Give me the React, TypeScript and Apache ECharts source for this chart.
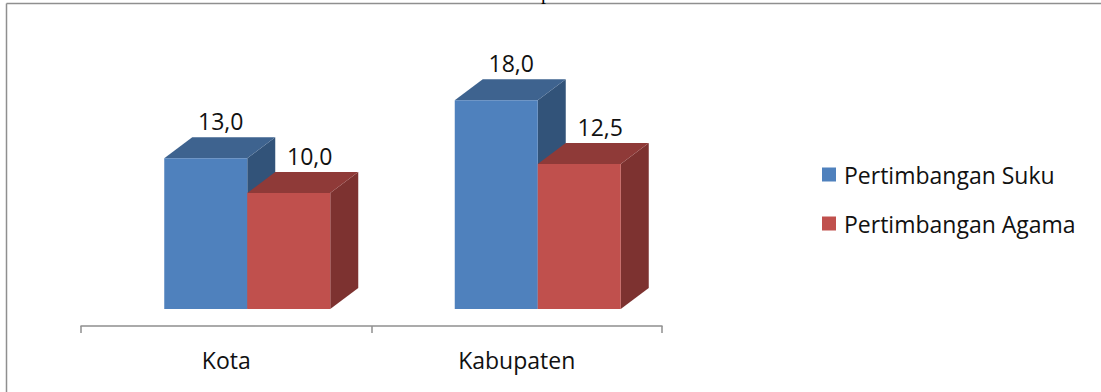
import { useEffect, useRef } from "react";
import * as echarts from "echarts";

const categories = ["Kota", "Kabupaten"];
const seriesNames = ["Pertimbangan Suku", "Pertimbangan Agama"];
const sukuValues = [13.0, 18.0];
const agamaValues = [10.0, 12.5];

const WIDTH = 1101;
const HEIGHT = 392;
const FONT = '"Open Sans", sans-serif';
const BAR_WIDTH = 83;
const DEPTH_X = 28;
const DEPTH_Y = 21;
const GRID_COLOR = "#8f8f8f";

// Draws one extruded bar: side and top faces behind the front face, value above.
const box3d =
  (barOffset: number, labelOffset: number, front: string, top: string, side: string) =>
  (params: any, api: any) => {
    const index = api.value(0);
    const value = api.value(1);
    const [cx, y1] = api.coord([index, value]);
    const [, y0] = api.coord([index, 0]);
    const x0 = cx + barOffset;
    const x1 = x0 + BAR_WIDTH;
    return {
      type: "group",
      children: [
        {
          type: "polygon",
          shape: {
            points: [
              [x1, y1],
              [x1 + DEPTH_X, y1 - DEPTH_Y],
              [x1 + DEPTH_X, y0 - DEPTH_Y],
              [x1, y0],
            ],
          },
          style: { fill: side },
        },
        {
          type: "polygon",
          shape: {
            points: [
              [x0, y1],
              [x0 + DEPTH_X, y1 - DEPTH_Y],
              [x1 + DEPTH_X, y1 - DEPTH_Y],
              [x1, y1],
            ],
          },
          style: { fill: top },
        },
        {
          type: "rect",
          shape: { x: x0, y: y1, width: BAR_WIDTH, height: y0 - y1 },
          style: { fill: front },
        },
        {
          type: "text",
          x: x0 + BAR_WIDTH / 2 + labelOffset,
          y: y1 - 37,
          style: {
            text: value.toFixed(1).replace(".", ","),
            font: `23px ${FONT}`,
            fill: "#111111",
            align: "center",
            verticalAlign: "middle",
          },
        },
      ],
    };
  };

export default function App() {
  const ref = useRef<HTMLDivElement>(null);

  useEffect(() => {
    const chart = echarts.init(ref.current!, undefined, { renderer: "svg" });
    chart.setOption({
      animation: false,
      backgroundColor: "#ffffff",
      grid: { left: 81, right: WIDTH - 662, top: 77, bottom: HEIGHT - 309 },
      xAxis: {
        type: "category",
        data: categories,
        offset: 17,
        axisLine: { show: true, onZero: false, lineStyle: { color: GRID_COLOR, width: 1.5 } },
        axisTick: { show: true, length: 7, lineStyle: { color: GRID_COLOR, width: 1.5 } },
        axisLabel: { fontFamily: FONT, fontSize: 23, color: "#111111", margin: 22 },
      },
      yAxis: { type: "value", min: 0, max: 20, show: false },
      legend: {
        orient: "vertical",
        left: 822,
        top: 163,
        padding: 0,
        itemWidth: 14,
        itemHeight: 14,
        itemGap: 26,
        icon: "rect",
        data: seriesNames,
        textStyle: { fontFamily: FONT, fontSize: 23, color: "#111111", padding: [0, 0, 0, 3] },
      },
      graphic: [
        {
          type: "line",
          shape: { x1: 6.5, y1: 3.5, x2: WIDTH, y2: 3.5 },
          style: { stroke: GRID_COLOR, lineWidth: 1.5 },
        },
        {
          type: "line",
          shape: { x1: 6.5, y1: 3.5, x2: 6.5, y2: HEIGHT },
          style: { stroke: GRID_COLOR, lineWidth: 1.5 },
        },
        {
          type: "text",
          x: 541,
          y: -18,
          style: { text: "p", font: '20px "Liberation Serif", serif', fill: "#000000" },
        },
      ],
      series: [
        {
          name: seriesNames[0],
          type: "custom",
          clip: false,
          itemStyle: { color: "#4f81bd" },
          encode: { x: 0, y: 1 },
          data: sukuValues.map((v, i) => [i, v]),
          renderItem: box3d(-62, 15, "#4f81bd", "#3e638f", "#325379"),
        },
        {
          name: seriesNames[1],
          type: "custom",
          clip: false,
          itemStyle: { color: "#c0504d" },
          encode: { x: 0, y: 1 },
          data: agamaValues.map((v, i) => [i, v]),
          renderItem: box3d(21, 21, "#c0504d", "#8f3a38", "#7d3230"),
        },
      ],
    });
    return () => chart.dispose();
  }, []);

  return (
    <div
      ref={ref}
      style={{ position: "absolute", left: 0, top: 0, width: WIDTH, height: HEIGHT }}
    />
  );
}
